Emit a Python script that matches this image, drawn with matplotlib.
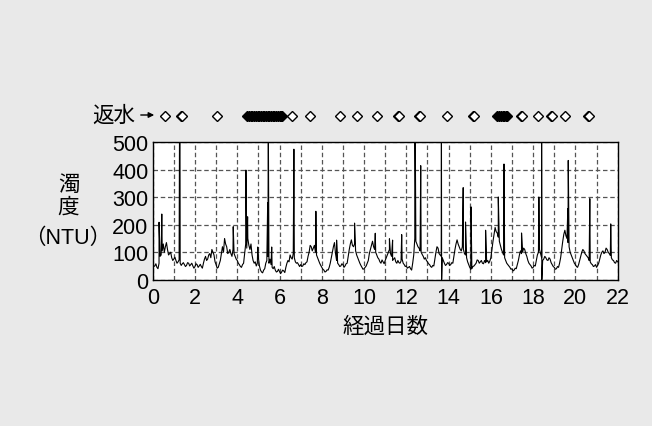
import numpy as np
import matplotlib
matplotlib.use("Agg")
import matplotlib.pyplot as plt

plt.rcParams['font.family'] = ['Liberation Sans', 'Noto Sans CJK JP', 'DejaVu Sans']

# turbidity read every 0.1 day (NTU)
base_ntu = [
    65, 50, 45, 60, 90, 130, 120, 110, 95, 80,
    75, 70, 65, 60, 58, 55, 52, 60, 55, 50,
    48, 55, 50, 48, 60, 85, 75, 95, 110, 90,
    55, 45, 70, 120, 150, 120, 100, 95, 110, 85,
    70, 55, 45, 60, 130, 150, 110, 90, 60, 50,
    80, 35, 25, 40, 70, 60, 55, 40, 35, 30,
    30, 28, 32, 45, 70, 90, 75, 80, 60, 55,
    55, 50, 55, 65, 100, 120, 115, 100, 80, 60,
    45, 35, 30, 35, 60, 100, 135, 70, 55, 50,
    55, 50, 60, 110, 145, 120, 105, 80, 60, 45,
    40, 50, 70, 110, 140, 110, 90, 75, 60, 65,
    70, 90, 110, 85, 75, 65, 70, 60, 75, 55,
    50, 45, 40, 60, 150, 130, 115, 100, 85, 80,
    65, 55, 45, 50, 100, 115, 90, 80, 60, 55,
    60, 55, 60, 110, 145, 120, 105, 110, 90, 65,
    45, 40, 50, 60, 70, 65, 60, 70, 65, 60,
    80, 140, 190, 170, 140, 110, 90, 70, 55, 45,
    40, 35, 40, 70, 105, 100, 110, 85, 60, 50,
    45, 50, 90, 110, 80, 75, 80, 70, 75, 55,
    45, 40, 45, 80, 140, 180, 150, 120, 90, 70,
    55, 45, 70, 100, 105, 90, 80, 65, 55, 50,
    45, 60, 90, 105, 100, 110, 95, 80, 70, 60,
    65,
]
# readings half way between the ones above (the jitter of the trace)
mid_ntu = [
    48, 58, 40, 85, 105, 100, 135, 90, 100, 70,
    82, 60, 72, 52, 62, 48, 62, 50, 60, 42,
    58, 45, 56, 42, 75, 70, 90, 80, 100, 65,
    42, 58, 95, 100, 130, 95, 110, 85, 95, 75,
    60, 48, 55, 95, 115, 125, 130, 70, 65, 60,
    50, 28, 35, 60, 85, 75, 45, 48, 28, 38,
    22, 35, 26, 60, 65, 80, 95, 65, 62, 48,
    48, 58, 62, 85, 125, 105, 125, 90, 70, 52,
    38, 28, 36, 45, 80, 120, 95, 60, 48, 58,
    45, 58, 85, 130, 125, 130, 90, 70, 52, 38,
    45, 60, 95, 125, 120, 100, 80, 65, 72, 58,
    80, 100, 95, 70, 80, 60, 62, 68, 60, 48,
    42, 48, 35, 90, 140, 120, 105, 92, 75, 70,
    58, 48, 52, 75, 120, 95, 85, 70, 52, 62,
    52, 62, 85, 130, 130, 110, 120, 95, 80, 55,
    38, 48, 55, 72, 60, 70, 58, 62, 70, 68,
    110, 165, 175, 155, 125, 100, 80, 60, 50, 38,
    32, 42, 55, 90, 95, 115, 95, 70, 55, 42,
    52, 70, 100, 95, 70, 85, 72, 80, 62, 48,
    38, 48, 60, 110, 165, 160, 135, 100, 80, 60,
    48, 55, 85, 110, 95, 85, 70, 58, 48, 55,
    52, 75, 100, 95, 115, 100, 88, 72, 62, 70,
]
base_days = np.round(np.arange(len(base_ntu)) * 0.1, 1)
mid_days = base_days[:-1] + 0.05

# short spikes (day, NTU); values above 500 run off the top
spike_days = [0.30, 0.43, 1.27, 1.29, 3.81, 4.41, 4.49, 4.97, 5.44, 5.47,
              5.63, 6.68, 7.72, 8.70, 9.55, 10.53, 11.20, 11.35, 11.78, 12.40,
              12.42, 12.68, 13.66, 13.67, 14.69, 14.80, 15.06, 15.75, 16.35, 16.62,
              17.45, 18.27, 18.40, 18.41, 19.64, 19.66, 20.68, 21.67]
spike_ntu = [209, 239, 560, 560, 193, 399, 229, 119, 280, 560,
             119, 475, 249, 144, 206, 169, 149, 144, 164, 560,
             560, 415, 560, 0, 335, 210, 265, 180, 301, 421,
             170, 301, 560, 0, 258, 434, 295, 203]

# return water events
return_days = [0.58, 1.35, 1.39, 3.03, 6.58, 7.44, 8.86, 9.65, 10.60,
               11.60, 11.64, 12.59, 12.63, 13.91, 15.15, 15.19,
               17.44, 17.48, 18.24, 18.85, 18.89, 19.52, 20.59, 20.63]
return_cont_days = [4.48, 4.56, 4.64, 4.72, 4.80, 4.88, 4.96, 5.04, 5.12, 5.20,
                    5.28, 5.36, 5.44, 5.52, 5.60, 5.68, 5.76, 5.84, 5.92, 6.00,
                    6.08, 6.14,
                    16.31, 16.39, 16.47, 16.55, 16.63, 16.71, 16.78]

x_ticks = list(range(0, 23, 2))
y_ticks = [0, 100, 200, 300, 400, 500]

days = np.concatenate([base_days, mid_days, spike_days])
ntu = np.concatenate([base_ntu, mid_ntu, spike_ntu])
order = np.argsort(days, kind='stable')

fig = plt.figure(figsize=(6.52, 4.27), dpi=100)
fig.patch.set_facecolor('#e9e9e9')
ax = fig.add_axes([0.2342, 0.3426, 0.7132, 0.3218])
ax.set_facecolor('white')

ax.plot(days[order], ntu[order], color='black', lw=0.8)

ax.set_xlim(0, 22)
ax.set_ylim(0, 500)
ax.set_xticks(x_ticks)
ax.set_xticks(range(0, 23), minor=True)
ax.set_yticks(y_ticks)
ax.tick_params(which='both', length=0, labelsize=15.5)
ax.tick_params(axis='x', pad=5)
ax.tick_params(axis='y', pad=3)
ax.grid(which='both', color='#555555', lw=0.9, linestyle=(0, (3.6, 2.2)))
for s in ax.spines.values():
    s.set_linewidth(1.0)
    s.set_color('black')

# return water markers above the plot
ax.plot(return_days, [596] * len(return_days), 'D', ms=5,
        mfc='white', mec='black', mew=1.0, clip_on=False)
ax.plot(return_cont_days, [596] * len(return_cont_days), 'D', ms=5,
        mfc='black', mec='black', mew=1.0, clip_on=False)

W, H = 652, 427
fig.text(135 / W, 1 - 116 / H, '返水', ha='right', va='center', fontsize=15.5)
ax.annotate('', xy=(157, H - 116), xytext=(138, H - 116), xycoords='figure pixels',
            arrowprops=dict(arrowstyle='-|>', lw=1.0, color='black', mutation_scale=8))

fig.text(68.5 / W, 1 - 185 / H, '濁', ha='center', va='center', fontsize=15.5)
fig.text(68.5 / W, 1 - 208 / H, '度', ha='center', va='center', fontsize=15.5)
fig.text(68 / W, 1 - 238 / H, '（NTU）', ha='center', va='center', fontsize=15.5)
fig.text(385 / W, 1 - 327 / H, '経過日数', ha='center', va='center', fontsize=15.5)

fig.savefig('out.png', dpi=100, facecolor=fig.get_facecolor())
